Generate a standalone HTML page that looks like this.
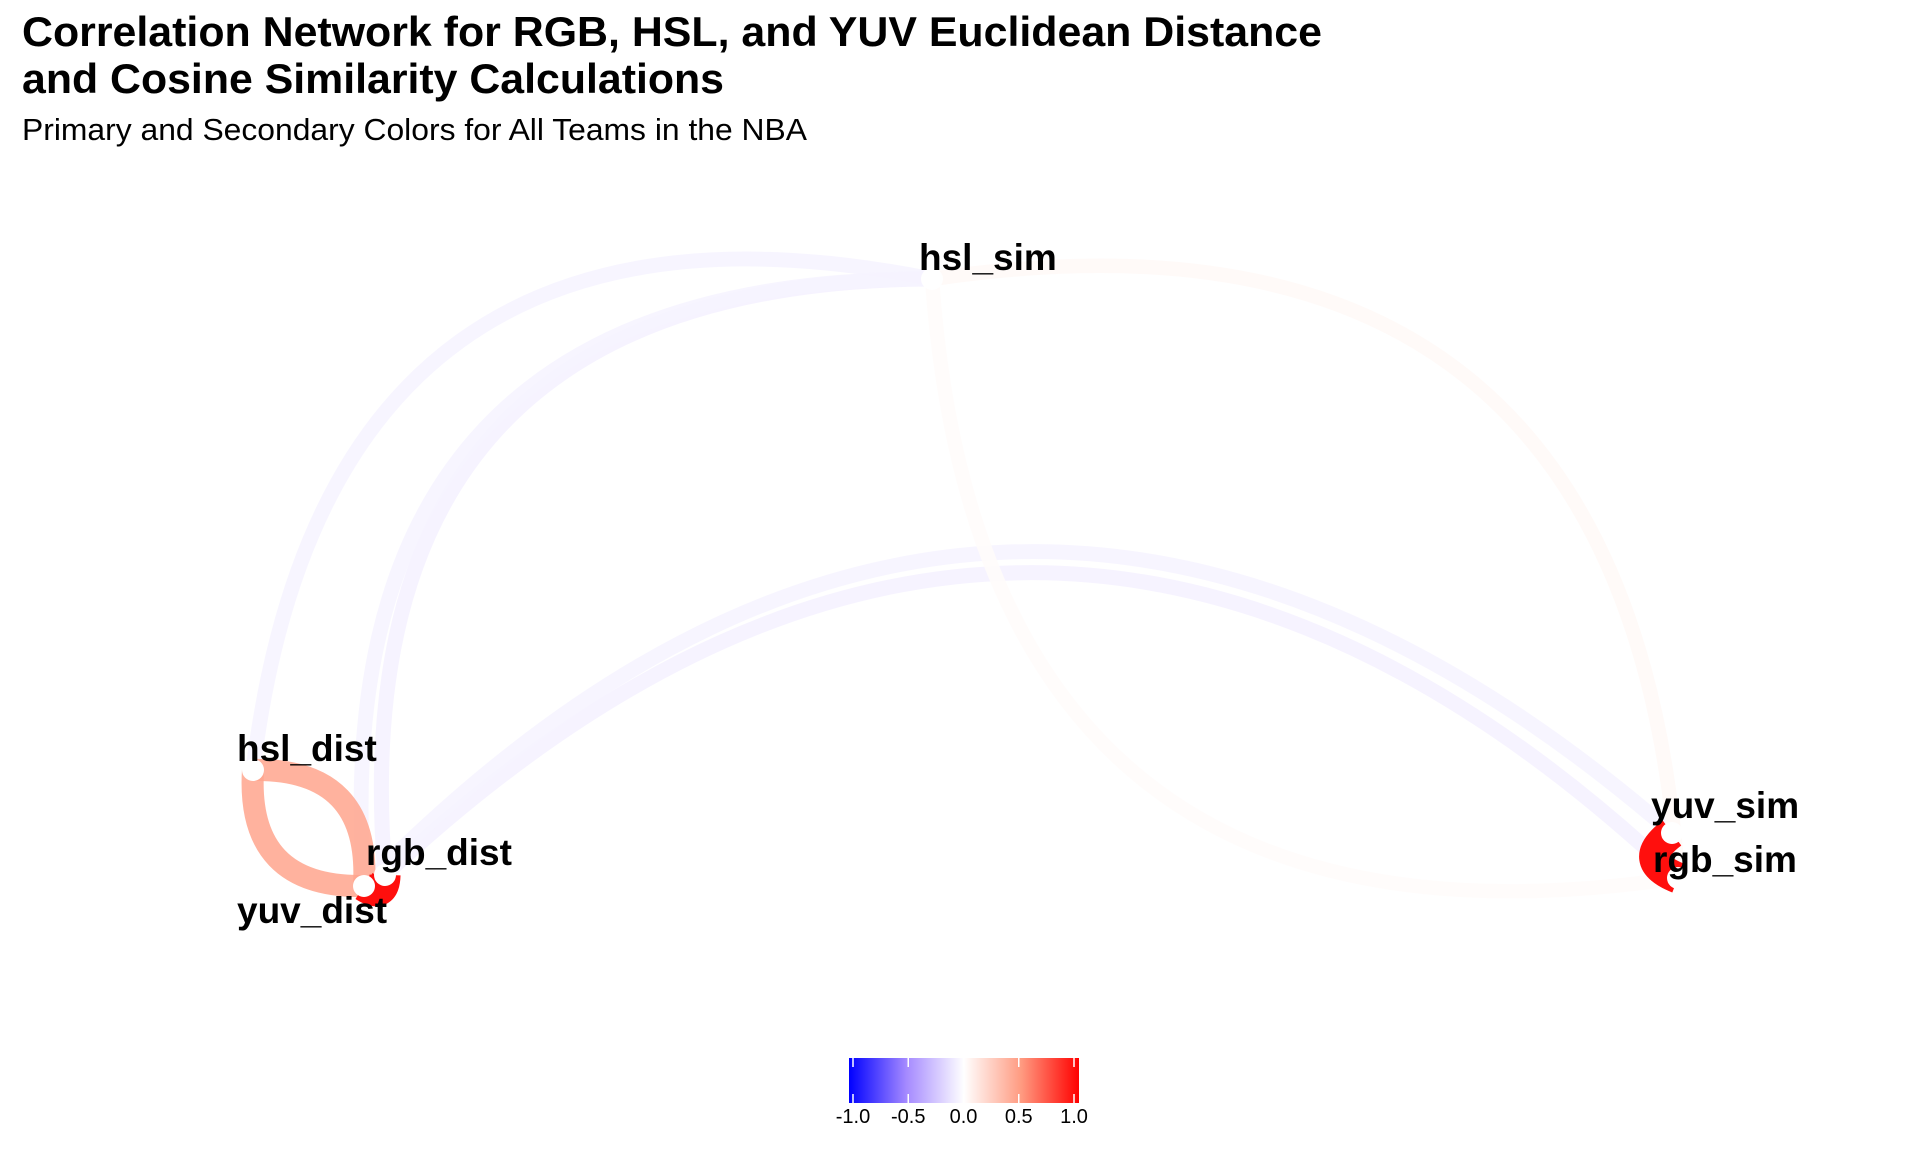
<!DOCTYPE html>
<html><head><meta charset="utf-8"><style>
html,body{margin:0;padding:0;background:#fff}
svg{display:block}
text{font-family:"Liberation Sans",sans-serif}
</style></head><body>
<svg id="chart" width="1920" height="1152" viewBox="0 0 1920 1152" xmlns="http://www.w3.org/2000/svg">
<text x="22" y="46" font-size="42" font-weight="bold" textLength="1300" lengthAdjust="spacingAndGlyphs">Correlation Network for RGB, HSL, and YUV Euclidean Distance</text>
<text x="22" y="93" font-size="42" font-weight="bold" textLength="702" lengthAdjust="spacingAndGlyphs">and Cosine Similarity Calculations</text>
<text x="22" y="140" font-size="31" textLength="785" lengthAdjust="spacingAndGlyphs">Primary and Secondary Colors for All Teams in the NBA</text>
<g id="edges"></g>
<g id="nodes"></g>
<g id="labels"></g>
<g id="legend">
<defs><linearGradient id="grad" x1="0" x2="1" y1="0" y2="0">
<stop offset="0" stop-color="#0000ff"/><stop offset="0.25" stop-color="#a58aff"/><stop offset="0.5" stop-color="#ffffff"/><stop offset="0.75" stop-color="#ff9a80"/><stop offset="1" stop-color="#ff0000"/>
</linearGradient></defs>
<rect x="849" y="1058" width="230" height="45" fill="url(#grad)"/>
</g>
</svg>
<script>
const nodeNames = ["hsl_dist","rgb_dist","yuv_dist","hsl_sim","yuv_sim","rgb_sim"];
const nodeX = [253, 385, 364, 932, 1672, 1678];
const nodeY = [770, 875, 886, 279, 833, 878];
const labelX = [237, 366, 237, 919, 1651, 1653];
const labelY = [761, 865, 923, 270, 818, 872];
const edgeFrom = ["hsl_dist","rgb_dist","yuv_dist","rgb_dist","yuv_dist","hsl_sim","rgb_sim","hsl_dist","yuv_dist","rgb_dist","rgb_sim"];
const edgeTo   = ["hsl_sim","hsl_sim","hsl_sim","rgb_sim","yuv_sim","rgb_sim","hsl_sim","yuv_dist","hsl_dist","yuv_dist","yuv_sim"];
const edgeR    = [-0.05,-0.06,-0.05,-0.06,-0.05,0.03,0.02,0.45,0.45,0.95,0.95];
const legendTicks = [-1.0,-0.5,0.0,0.5,1.0];
const legendLabels = ["-1.0","-0.5","0.0","0.5","1.0"];

const NS="http://www.w3.org/2000/svg";
const stops=[[-1,[0,0,255]],[-0.5,[165,138,255]],[0,[255,255,255]],[0.5,[255,154,128]],[1,[255,0,0]]];
function colorScale(r){
  for(let i=0;i<stops.length-1;i++){
    const a=stops[i],b=stops[i+1];
    if(r<=b[0]){const t=(r-a[0])/(b[0]-a[0]);
      const c=a[1].map((v,k)=>Math.round(v+(b[1][k]-v)*t));
      return `rgb(${c[0]},${c[1]},${c[2]})`;}
  }
  return "rgb(255,0,0)";
}
function widthScale(r){return 14+18*Math.abs(r);}
function legendX(v){return 853+(v+1)/2*(1074-853);}
function curvature(x1,y1,x2,y2){
  const len=Math.hypot(x2-x1,y2-y1);
  if(len<60) return 0.45;
  if(len>1200) return 0.235;
  return 0.27;
}
const eg=document.getElementById('edges');
for(let i=0;i<edgeFrom.length;i++){
  const a=nodeNames.indexOf(edgeFrom[i]), b=nodeNames.indexOf(edgeTo[i]);
  const x1=nodeX[a],y1=nodeY[a],x2=nodeX[b],y2=nodeY[b];
  const dx=x2-x1,dy=y2-y1;
  const k=curvature(x1,y1,x2,y2);
  const cx=(x1+x2)/2+2*k*dy, cy=(y1+y2)/2-2*k*dx;
  const p=document.createElementNS(NS,'path');
  
  
  p.setAttribute('d',`M${x1},${y1} Q${cx},${cy} ${x2},${y2}`);
  p.setAttribute('fill','none');
  p.setAttribute('stroke',colorScale(edgeR[i]));
  p.setAttribute('stroke-width',widthScale(edgeR[i]));
  p.setAttribute('stroke-opacity',Math.abs(edgeR[i])>0.8?1:0.85);
  eg.appendChild(p);
}
const ng=document.getElementById('nodes'), lg=document.getElementById('labels');
for(let i=0;i<nodeNames.length;i++){
  const c=document.createElementNS(NS,'circle');
  
  
  c.setAttribute('cx',nodeX[i]);c.setAttribute('cy',nodeY[i]);c.setAttribute('r',11);
  c.setAttribute('fill','#fff');
  ng.appendChild(c);
  const t=document.createElementNS(NS,'text');
  
  
  t.setAttribute('x',labelX[i]);t.setAttribute('y',labelY[i]);
  t.setAttribute('font-size',37);t.setAttribute('font-weight','bold');
  t.textContent=nodeNames[i];
  lg.appendChild(t);
}
const leg=document.getElementById('legend');
for(let i=0;i<legendTicks.length;i++){
  const x=legendX(legendTicks[i]);
  const l1=document.createElementNS(NS,'line');
  
  
  l1.setAttribute('x1',x);l1.setAttribute('x2',x);l1.setAttribute('y1',1058);l1.setAttribute('y2',1067);
  l1.setAttribute('stroke','#fff');l1.setAttribute('stroke-width',1.5);
  leg.appendChild(l1);
  const l2=document.createElementNS(NS,'line');
  
  
  l2.setAttribute('x1',x);l2.setAttribute('x2',x);l2.setAttribute('y1',1094);l2.setAttribute('y2',1103);
  l2.setAttribute('stroke','#fff');l2.setAttribute('stroke-width',1.5);
  leg.appendChild(l2);
  const t=document.createElementNS(NS,'text');
  
  
  t.setAttribute('x',x);t.setAttribute('y',1123);t.setAttribute('text-anchor','middle');
  t.setAttribute('font-size',20);
  t.textContent=legendLabels[i];
  leg.appendChild(t);
}
</script>
</body></html>
